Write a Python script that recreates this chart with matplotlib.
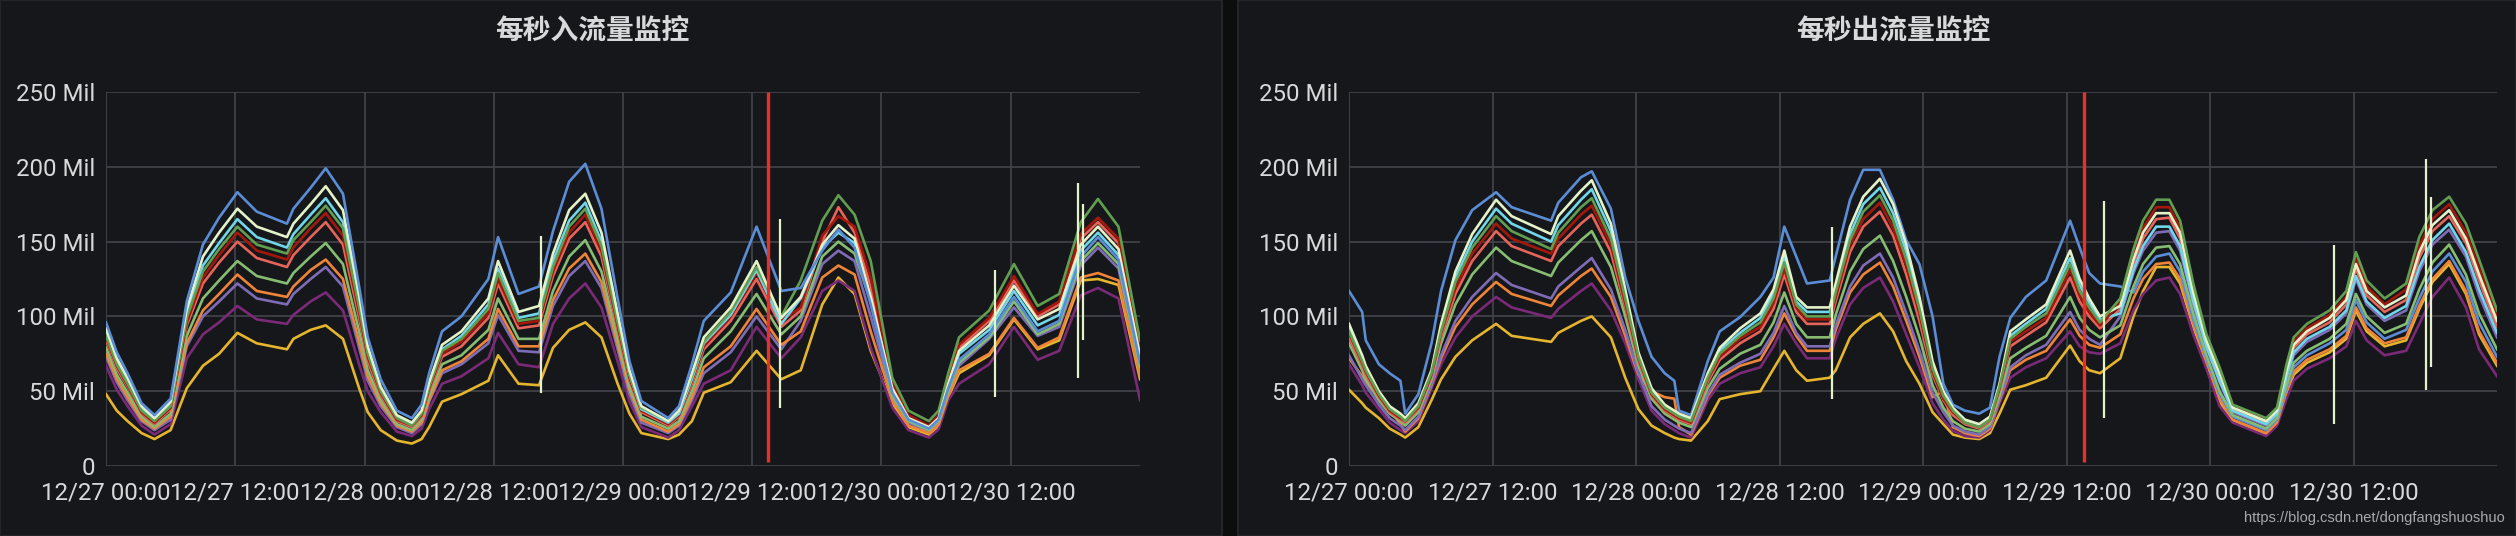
import matplotlib
matplotlib.use('Agg')
import matplotlib.pyplot as plt
from matplotlib.patches import Rectangle

# hours since 12/27 00:00
X_TICKS = [0, 12, 24, 36, 48, 60, 72, 84]
X_LABELS = ['12/27 00:00', '12/27 12:00', '12/28 00:00', '12/28 12:00',
            '12/29 00:00', '12/29 12:00', '12/30 00:00', '12/30 12:00']
Y_TICKS = [0, 50, 100, 150, 200, 250]
Y_LABELS = ['0', '50 Mil', '100 Mil', '150 Mil', '200 Mil', '250 Mil']
ANNOT_T = 61.5

# ---- inbound (Mil) ----
T_IN = [0, 1, 2, 3.3, 4.5, 6, 7.5, 9, 10.5, 12.2, 14, 16.8, 17.4, 19, 20.4, 22, 23.5,
        24.3, 25.5, 27, 28.4, 29.3, 30, 31.2, 33, 35.5, 36.4, 38.3, 40.2, 41.5, 43, 44.5, 46, 47.5,
        48.6, 49.7, 52.2, 53.2, 54.4, 55.5, 58, 60.4, 62.7, 64.5, 66.5, 68, 69.5, 71,
        73, 74.5, 76.4, 77.3, 78.2, 79.2, 82, 84.3, 86.5, 88.5, 90.5, 92.1, 94, 96]
IN_BLUE = [96, 76, 62, 42, 34, 45, 110, 148, 166, 183, 170, 162, 172, 186, 199, 182, 120,
           86, 58, 37, 32, 41, 62, 90, 100, 125, 153, 115, 120, 157, 190, 202, 172, 112,
           70, 43.5, 32, 40, 68, 97, 116, 160, 117, 119, 144, 158, 146, 108,
           49, 31, 25, 31, 52, 71, 88, 113, 90, 97, 140, 153, 138, 69]
IN_LTYELLOW = [92, 72, 59, 40, 32, 43, 105, 140, 156, 172, 160, 153, 162, 175, 187, 171, 114,
               80, 53, 34, 29, 37, 56, 81, 90, 112, 137, 103, 107, 142, 171, 182, 156, 102,
               64, 40, 30, 37, 62, 86, 106, 137, 99, 113, 148, 161, 152, 113,
               52, 32, 26, 32, 55, 77, 94, 120.5, 98, 105, 148, 160, 145, 74]
IN_CYAN = [89, 70, 57, 39, 31, 41, 101, 134, 149, 165, 153, 146, 155, 168, 179, 163, 109,
           77, 51, 33, 28, 36, 54, 78, 87, 108, 132, 99, 102, 137, 164, 176, 150, 98,
           61, 38, 29, 35, 58, 82, 101, 131, 95, 112, 146, 156, 149, 112,
           50, 31, 25, 31, 53, 75, 91, 117, 94, 101, 144, 156, 141, 71]
IN_DKGREEN = [87, 68, 55, 37, 30, 40, 99, 130, 145, 160, 148, 142, 151, 163, 174, 159, 106,
              75, 50, 32, 27, 35, 53, 77, 85, 105, 129, 97, 99, 133, 160, 172, 147, 96,
              61, 39, 30, 37, 60, 83, 103, 133, 100, 124, 164, 181, 168, 137,
              59, 37, 30, 37, 62, 86, 104, 135, 107, 115, 163, 178.5, 160, 84]
IN_DKRED = [86, 67, 54, 36, 29, 39, 96, 126, 141, 156, 144, 138, 146, 159, 169, 154, 103,
            73, 49, 31, 27, 34, 52, 75, 83, 102, 125, 95, 97, 130, 156, 168, 144, 94,
            59, 37, 28, 34, 57, 80, 100, 129, 97, 106, 154, 167, 160, 126,
            55, 34, 27, 34, 58, 81, 99, 127, 101.6, 110, 155, 166, 152, 78]
IN_SALMON = [84, 65, 53, 35, 28, 38, 94, 122, 136, 150, 139, 133, 141, 153, 163, 148, 99,
             70, 47, 30, 26, 33, 50, 73, 80, 99, 122, 92, 94, 127, 152, 163, 140, 91,
             57, 36, 27, 33, 55, 78, 97, 125, 93, 104, 150, 173, 156, 120,
             53, 32, 26, 33, 56, 79, 97, 124, 100, 108, 152, 163, 149, 76]
IN_GREEN = [79, 61, 49, 33, 26, 35, 87, 112, 124, 137, 127, 122, 129, 140, 149, 135, 90,
            64, 44, 28, 24, 31, 47, 68, 74, 91, 112, 85, 85, 117, 140, 151, 130, 85,
            53, 33, 25, 30, 50, 72, 90, 115, 88, 100, 140, 150, 142, 110,
            47, 30, 24, 30, 50, 69, 86, 110, 88, 95, 137, 149, 135, 66]
IN_ORANGE = [75, 58, 46, 31, 25, 33, 82, 104, 115, 128, 117, 113, 120, 131, 138, 125, 83,
             60, 42, 27, 23, 29, 44, 64, 70, 85, 105, 80, 80, 111, 132, 142, 123, 81,
             51, 31, 23, 28, 46, 66, 80, 105, 81, 90, 126, 134, 128, 90,
             44, 27, 22, 27.5, 47, 64, 75, 99, 79, 86, 126, 129, 124, 60]
IN_VIOLET = [73, 56, 44, 30, 24, 31, 80, 100, 110, 122, 112, 108, 115, 125, 133, 120, 79,
             57, 40, 26, 22, 28, 43, 62, 68, 82, 101, 77, 76, 107, 127, 137, 119, 78,
             48, 29, 22, 27, 44, 62, 76, 100, 78, 97, 135, 144, 137, 100,
             46, 29, 23, 29, 49, 67, 85, 106, 87, 93, 134, 146, 132, 64]
IN_PURPLE = [67, 51, 40, 27, 21, 28, 72, 88, 96, 107, 98, 95, 101, 110, 116, 104, 68,
             50, 36, 23, 20, 25, 38, 55, 60, 72, 89, 68, 66, 95, 112, 122, 106, 70,
             43, 26, 19, 24, 40, 55, 64, 93, 72, 86, 117, 124, 117, 79,
             39, 24, 19, 24.5, 44, 55, 68, 93, 71, 77, 114, 119, 112, 44]
IN_YELLOW = [48, 37, 30, 22, 18, 24, 52, 67, 75, 89, 82, 78, 85, 91, 94, 85, 52,
             36, 24, 17, 15, 18, 26, 43, 48, 57, 74, 55, 54, 79, 91, 96, 86, 55,
             35, 22, 18, 21, 30, 49, 56, 77, 58, 64, 108, 126, 115, 77,
             42, 26, 21, 26.5, 46, 62, 74, 98, 78, 84, 124, 125, 121, 58]
IN_SPIKE_T = [40.4, 62.6, 82.5, 90.2, 90.7]
IN_SPIKE_LO = [49, 39, 46, 59, 84]
IN_SPIKE_HI = [154, 165, 131, 189, 175]

# ---- outbound (Mil) ----
T_OUT = [0, 1.1, 1.4, 2.5, 3.4, 4.3, 4.7, 5.8, 6.9, 7.7, 8.9, 10.3, 12.3, 13.6, 16.9, 17.5,
         19.4, 20.3, 21.9, 23.1, 24.2, 25.3, 26.4, 27.2, 27.6, 28.6,
         30, 31, 32.7, 34.4, 35.5, 36.4, 37.4, 38.3, 40.2, 40.7, 41.9, 43, 44.4, 45.5,
         46.6, 47.7, 48.8, 49.7, 50.5, 51.5, 52.7, 53.6, 54.4, 55.3, 56.6, 58.3, 60.3, 61.1, 61.9, 62.8,
         64.5, 65.6, 66.4, 67.5, 68.6, 69.5, 70.6, 71.7, 72.8, 73.9, 76.7, 77.6, 78.4, 79,
         80.1, 82, 83.4, 84.2, 85.1, 86.6, 88.4, 89.5, 90.6, 92, 93.4, 94.5, 96]
OUT_BLUE = [117, 103, 84, 68, 62, 57, 35, 48, 82, 117, 151, 171, 183, 173, 164, 176,
            193, 197, 172, 126, 97, 73, 62, 57, 37, 34,
            70, 90, 99.5, 113, 126, 160, 140, 122, 124, 140, 178, 198, 198, 178,
            151, 135, 100, 55, 41, 37, 35, 39, 73, 99, 113, 124, 164, 146, 129, 122,
            120, 116, 130, 140, 142, 130, 98, 72, 48, 33, 24, 31, 52, 66,
            74, 82, 91, 111, 96, 85, 91, 112, 130, 142, 123, 96, 73]
OUT_LTYELLOW = [95, 74, 67, 50, 40, 35, 32, 42, 64, 95, 130, 155, 178, 167, 155, 167,
                184, 191, 162, 118, 76, 52, 41, 37, 35, 32,
                62, 79, 92, 102, 118, 144, 113, 106, 106, 122, 160, 180, 192, 175,
                148, 113, 70, 50, 39, 31, 28, 33, 55, 90, 98, 108, 144, 125, 112, 100,
                107, 138, 156, 169, 169, 156, 116, 84, 62, 39, 30, 37, 64, 81,
                90, 99, 111, 135, 117, 106, 114, 143, 161, 171, 152, 128, 97]
OUT_CYAN = [93, 72, 66, 49, 39, 34, 31, 41, 63, 93, 126, 150, 172, 162, 150, 161,
            178, 185, 157, 115, 74, 50, 40, 36, 34, 31,
            60, 77, 89, 99, 115, 140, 110, 103, 103, 119, 155, 175, 186, 169,
            143, 109, 67, 48, 38, 30, 27, 32, 54, 87, 95, 105, 139, 121, 109, 98,
            102, 131, 147, 160, 160, 147, 110, 80, 57, 37, 28, 35, 60, 76,
            85, 93, 104, 127, 110, 99, 107, 133, 151, 162, 143, 118, 89]
OUT_DKGREEN = [90, 70, 64, 48, 38, 33, 30, 40, 62, 90, 123, 146, 167, 157, 145, 156,
               173, 179, 152, 112, 73, 49, 39, 35, 33, 30,
               59, 75, 87, 96, 112, 136, 108, 100, 100, 116, 151, 170, 181, 164,
               138, 105, 65, 47, 37, 29, 26, 31, 53, 85, 93, 102, 135, 117, 106, 96,
               112, 145, 164, 178, 178, 164, 122, 88, 66, 41, 32, 39, 68, 86,
               95, 104, 117, 143, 124, 112, 122, 153, 171, 180, 162, 138, 104]
OUT_DKRED = [89, 69, 63, 47, 37, 32, 30, 39, 61, 89, 119, 142, 162, 152, 142, 152,
             168, 174, 148, 109, 72, 48, 38, 34, 32, 29,
             58, 73, 85, 93, 109, 132, 106, 98, 98, 113, 148, 165, 176, 159,
             134, 102, 63, 45, 36, 29, 26, 31, 52, 83, 90, 99, 131, 114, 103, 94,
             109, 141, 159, 173, 173, 159, 119, 86, 63, 40, 31, 38, 66, 83,
             92, 101, 113, 138, 120, 108, 118, 147, 165, 175, 156, 132, 100]
OUT_SALMON = [86, 67, 61, 46, 36, 31, 29, 38, 60, 86, 115, 137, 157, 147, 137, 147,
              162, 168, 143, 106, 70, 47, 37, 33, 31, 28,
              56, 71, 82, 90, 105, 128, 103, 95, 95, 110, 143, 160, 170, 154,
              128, 97, 61, 44, 34, 28, 25, 30, 51, 80, 87, 96, 126, 110, 100, 92,
              105, 135, 152, 165, 166, 152, 114, 82, 60, 38, 29, 36, 62, 79,
              88, 96, 108, 132, 114, 103, 111, 139, 157, 167, 149, 124, 93]
OUT_GREEN = [82, 64, 58, 44, 35, 30, 27, 36, 58, 82, 108, 128, 146, 137, 127, 136,
             151, 157, 133, 100, 67, 45, 35, 31, 29, 26,
             52, 65, 75, 81, 96, 116, 95, 86, 86, 101, 130, 145, 154, 137,
             113, 86, 54, 39, 30, 25, 23, 28, 47, 72, 79, 87, 113, 99, 91, 86,
             94, 120, 135, 146, 147, 135, 102, 74, 50, 34, 25, 32, 54, 69,
             77, 85, 95, 115, 100, 89, 95, 118, 136, 148, 128, 102, 78]
OUT_VIOLET = [74, 58, 54, 41, 32, 27, 24, 33, 55, 74, 97, 113, 129, 121, 112, 120,
              133, 139, 118, 91, 62, 40, 31, 27, 25, 22,
              48, 61, 69, 75, 89, 107, 89, 80, 80, 94, 120, 134, 142, 126,
              102, 77, 49, 36, 27, 23, 21, 26, 45, 66, 74, 81, 103, 91, 85, 81,
              100, 129, 144, 156, 157, 144, 108, 79, 56, 36, 27, 34, 59, 74,
              83, 91, 102, 125, 108, 97, 104, 130, 148, 158, 140, 114, 86]
OUT_ORANGE = [72, 60, 56, 46, 38, 28, 23, 32, 54, 72, 93, 108, 123, 115, 107, 114,
              127, 132, 113, 87, 61, 50, 46, 45, 26, 21,
              47, 59, 67, 71, 86, 102, 87, 77, 77, 91, 116, 128, 136, 120,
              97, 73, 46, 50, 26, 22, 20, 25, 44, 64, 71, 77, 98, 87, 81, 79,
              88, 112, 125, 135, 136, 125, 95, 70, 45, 31, 22, 29, 50, 63,
              71, 78, 87, 106, 92, 82, 86, 107, 125, 137, 117, 90, 69]
OUT_PURPLE = [68, 54, 49, 38, 29, 24, 22, 30, 52, 68, 86, 100, 113, 106, 99, 105,
              117, 122, 104, 82, 58, 37, 28, 24, 22, 19,
              44, 55, 62, 66, 80, 95, 82, 72, 72, 85, 108, 119, 126, 110,
              88, 66, 42, 31, 23.5, 20, 19, 24, 42, 59, 66, 72, 90, 80, 76, 75,
              82, 104, 115, 124, 126, 115, 88, 65, 40, 29, 20, 27, 45, 57,
              65, 72, 80, 97, 84, 74, 77, 95, 113, 126, 106, 78, 60]
OUT_YELLOW = [51, 42, 39, 32, 25, 21, 19, 26, 44, 58, 73, 84, 95, 87, 83, 89,
              97, 100, 86, 59, 38, 27, 22, 19, 18, 17,
              30, 44.7, 48, 50, 65, 77, 64, 57, 59, 64, 86, 95, 102, 90,
              70, 55, 36, 28, 21, 19, 18, 22, 35, 51, 54, 59, 80.5, 70, 64, 62,
              72, 100, 117, 133, 133, 122, 93, 68, 43, 30, 21, 28, 48, 61,
              69, 76, 85, 104, 90, 80, 84, 105, 123, 135, 115, 88, 67]
OUT_SPIKE_T = [40.4, 63.1, 82.4, 90.1, 90.5]
OUT_SPIKE_LO = [45, 32, 28, 51, 66]
OUT_SPIKE_HI = [160, 177, 148, 205, 180]

COLORS = {
    'yellow': '#e5b52e', 'purple': '#7b2a78', 'violet': '#7f6cb6',
    'orange': '#ee8438', 'green': '#86bd72', 'salmon': '#e6645a',
    'dkred': '#a3170c', 'dkgreen': '#629e51', 'cyan': '#70d6ea',
    'ltyellow': '#e4f2c9', 'blue': '#5b8dd6',
}

BG = '#16171a'
TXT = '#d8d9da'
GRID = '#3f4247'
LABEL_FONT = ['Roboto', 'DejaVu Sans']
CJK_FONT = ['Noto Sans CJK SC', 'DejaVu Sans']


def draw_panel(ax, t, series, spike_t, spike_lo, spike_hi):
    ax.set_facecolor(BG)
    for name, vals in series:
        ax.plot(t, vals, color=COLORS[name], lw=1.9, solid_joinstyle='round')
    ax.vlines(spike_t, spike_lo, spike_hi, color=COLORS['ltyellow'], lw=1.6)
    ax.vlines([ANNOT_T], 3, 250, color='#e8302a', lw=2.4, zorder=5)
    ax.set_xlim(0, 96)
    ax.set_ylim(0, 250)
    ax.set_xticks(X_TICKS)
    ax.set_xticklabels(X_LABELS, family=LABEL_FONT)
    ax.set_yticks(Y_TICKS)
    ax.set_yticklabels(Y_LABELS, family=LABEL_FONT)
    ax.tick_params(length=0, colors=TXT, labelsize=17.3)
    ax.tick_params(axis='x', pad=11)
    ax.tick_params(axis='y', pad=8)
    ax.grid(True, color=GRID, lw=1.3)
    ax.set_axisbelow(True)
    for s in ax.spines.values():
        s.set_visible(False)


fig = plt.figure(figsize=(25.16, 5.36), dpi=100, facecolor='#0c0d0f')
W, H = 2516, 536
fig.patches.append(Rectangle((0, 0), 1222 / W, 1, transform=fig.transFigure,
                             facecolor=BG, edgecolor='#232529', lw=1.5, zorder=-10))
fig.patches.append(Rectangle((1238 / W, 0), (W - 1238) / W, 1, transform=fig.transFigure,
                             facecolor=BG, edgecolor='#232529', lw=1.5, zorder=-10))

in_series = [('yellow', IN_YELLOW), ('purple', IN_PURPLE), ('violet', IN_VIOLET),
             ('orange', IN_ORANGE), ('green', IN_GREEN), ('salmon', IN_SALMON),
             ('dkred', IN_DKRED), ('cyan', IN_CYAN), ('dkgreen', IN_DKGREEN),
             ('ltyellow', IN_LTYELLOW), ('blue', IN_BLUE)]
out_series = [('yellow', OUT_YELLOW), ('purple', OUT_PURPLE), ('orange', OUT_ORANGE),
              ('violet', OUT_VIOLET), ('blue', OUT_BLUE), ('green', OUT_GREEN),
              ('salmon', OUT_SALMON), ('cyan', OUT_CYAN), ('dkred', OUT_DKRED),
              ('ltyellow', OUT_LTYELLOW), ('dkgreen', OUT_DKGREEN)]

bottom = 1 - 466 / H
height = (466 - 92) / H
ax1 = fig.add_axes([106 / W, bottom, (1140 - 106) / W, height])
draw_panel(ax1, T_IN, in_series, IN_SPIKE_T, IN_SPIKE_LO, IN_SPIKE_HI)
ax2 = fig.add_axes([1349 / W, bottom, (2497 - 1349) / W, height])
draw_panel(ax2, T_OUT, out_series, OUT_SPIKE_T, OUT_SPIKE_LO, OUT_SPIKE_HI)

fig.text(592 / W, 1 - 31 / H, '每秒入流量监控', ha='center', va='center', color=TXT,
         fontsize=20, fontweight='bold', family=CJK_FONT)
fig.text(1893 / W, 1 - 31 / H, '每秒出流量监控', ha='center', va='center', color=TXT,
         fontsize=20, fontweight='bold', family=CJK_FONT)
fig.text(2505 / W, 1 - 518 / H, 'https://blog.csdn.net/dongfangshuoshuo', ha='right',
         va='center', color='#a8a9ab', fontsize=10.5, family=['Liberation Sans', 'DejaVu Sans'])

fig.savefig('out.png', dpi=100, facecolor=fig.get_facecolor())
